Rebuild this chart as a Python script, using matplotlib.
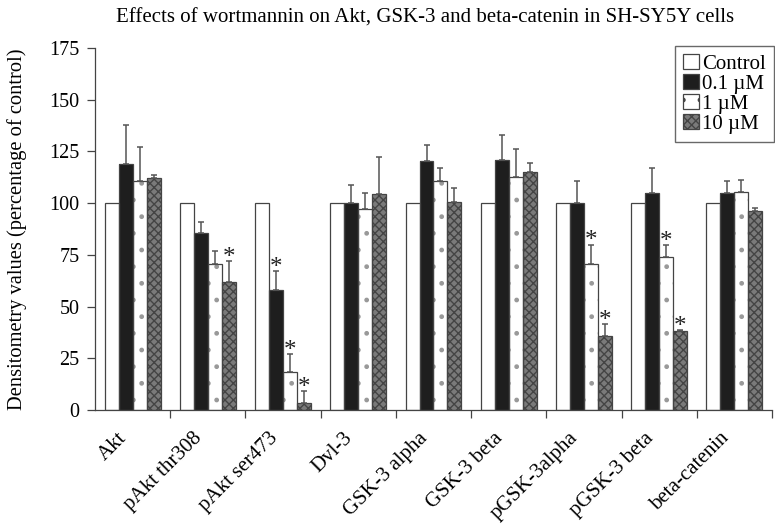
import numpy as np
import matplotlib
matplotlib.use('Agg')
import matplotlib.pyplot as plt
from matplotlib.transforms import ScaledTranslation

plt.rcParams['font.family'] = ['Liberation Serif', 'DejaVu Serif']
plt.rcParams['hatch.linewidth'] = 1.0

# densitometry, percentage of control
cats = ['Akt', 'pAkt thr308', 'pAkt ser473', 'Dvl-3', 'GSK-3 alpha',
        'GSK-3 beta', 'pGSK-3alpha', 'pGSK-3 beta', 'beta-catenin']
control = [100, 100, 100, 100, 100, 100, 100, 100, 100]
d01 = [118.7, 85.8, 58.0, 100.0, 120.3, 120.8, 100.0, 104.8, 104.8]
d01_err = [19.3, 5.2, 9.3, 8.7, 7.7, 11.9, 10.6, 12.0, 5.8]
d1 = [110.8, 70.5, 18.2, 97.4, 110.6, 112.6, 70.5, 73.8, 105.2]
d1_err = [16.1, 6.3, 8.7, 7.3, 6.6, 13.8, 9.5, 5.8, 6.1]
d10 = [112.0, 62.0, 3.2, 104.5, 100.6, 115.1, 36.0, 38.2, 96.1]
d10_err = [1.4, 10.1, 6.1, 17.9, 6.5, 4.4, 5.4, 0.4, 1.6]

# significant vs control: (series index, category index)
sig = [(3, 1), (1, 2), (2, 2), (3, 2), (2, 6), (3, 6), (2, 7), (3, 7)]

labels = ['Control', '0.1 µM', '1 µM', '10 µM']
vals = [control, d01, d1, d10]
errs = [None, d01_err, d1_err, d10_err]
faces = ['white', '#1e1e1e', 'white', '#7a7a7a']
hatches = [None, None, '.', 'xxxx']
# colour of the hatch marks (the outline is drawn separately)
hatch_cols = ['#444444', '#444444', '#999999', '#444444']

fig = plt.figure(figsize=(7.75, 5.24), dpi=100)
ax = fig.add_axes([0.1226, 0.2176, 0.8735, 0.6908])

x = np.arange(len(cats))
w = 0.186
edge = '#444444'
for i in range(4):
    pos = x + (i - 1.5) * w
    ax.bar(pos, vals[i], w, color=faces[i], edgecolor=hatch_cols[i],
           linewidth=0, hatch=hatches[i], zorder=2)
    ax.bar(pos, vals[i], w, fill=False, edgecolor=edge, linewidth=0.9,
           zorder=2.5)
    if errs[i] is not None:
        ax.errorbar(pos, vals[i], yerr=[np.zeros(len(cats)), errs[i]],
                    fmt='none', ecolor='#555555', elinewidth=1.1,
                    capsize=2.3, capthick=1.1, zorder=3)

for i, j in sig:
    top = vals[i][j] + errs[i][j]
    ax.annotate('*', (x[j] + (i - 1.5) * w, top), xytext=(0, -2),
                textcoords='offset points', ha='center', va='baseline',
                fontsize=18, color='#222222')

ax.set_xlim(-0.5, len(cats) - 0.5)
ax.set_ylim(0, 175)
ax.set_yticks(np.arange(0, 176, 25))
ax.tick_params(axis='y', labelsize=14.5, length=6, width=0.9,
               color='#444444', pad=5)

# ticks at group boundaries, labels at group centres
ax.set_xticks(np.arange(0.5, len(cats) - 0.4, 1.0))
ax.set_xticklabels([])
ax.tick_params(axis='x', which='major', length=6, width=0.9, color='#444444')
ax.set_xticks(x, minor=True)
ax.set_xticklabels(cats, minor=True, rotation=45, ha='right',
                   rotation_mode='anchor', fontsize=15)
ax.tick_params(axis='x', which='minor', length=0, pad=13.5)
shift = ScaledTranslation(-15 / 100, 0, fig.dpi_scale_trans)
for lab in ax.get_xticklabels(minor=True):
    lab.set_transform(lab.get_transform() + shift)

for s in ['top', 'right']:
    ax.spines[s].set_visible(False)
for s in ['left', 'bottom']:
    ax.spines[s].set_color('#444444')
    ax.spines[s].set_linewidth(0.9)

ax.set_ylabel('Densitometry values (percentage of control)', fontsize=14.8)
ax.yaxis.set_label_coords(-0.1, 0.5)
fig.text(0.549, 0.965, 'Effects of wortmannin on Akt, GSK-3 and beta-catenin in SH-SY5Y cells',
         ha='center', va='center', fontsize=15)

handles = [plt.Rectangle((0, 0), 1, 1, facecolor=faces[i], edgecolor=edge,
                         hatch=hatches[i], linewidth=0.9) for i in range(4)]
leg = ax.legend(handles, labels, loc='upper right',
                bbox_to_anchor=(0.9985, 0.913),
                bbox_transform=fig.transFigure, fontsize=15, frameon=True,
                fancybox=False, handlelength=0.75, handleheight=0.75,
                handletextpad=0.15, labelspacing=0.0, borderpad=0.4,
                borderaxespad=0)
leg.get_frame().set_edgecolor('#444444')
leg.get_frame().set_linewidth(1.0)

fig.savefig('out.png', dpi=100)
